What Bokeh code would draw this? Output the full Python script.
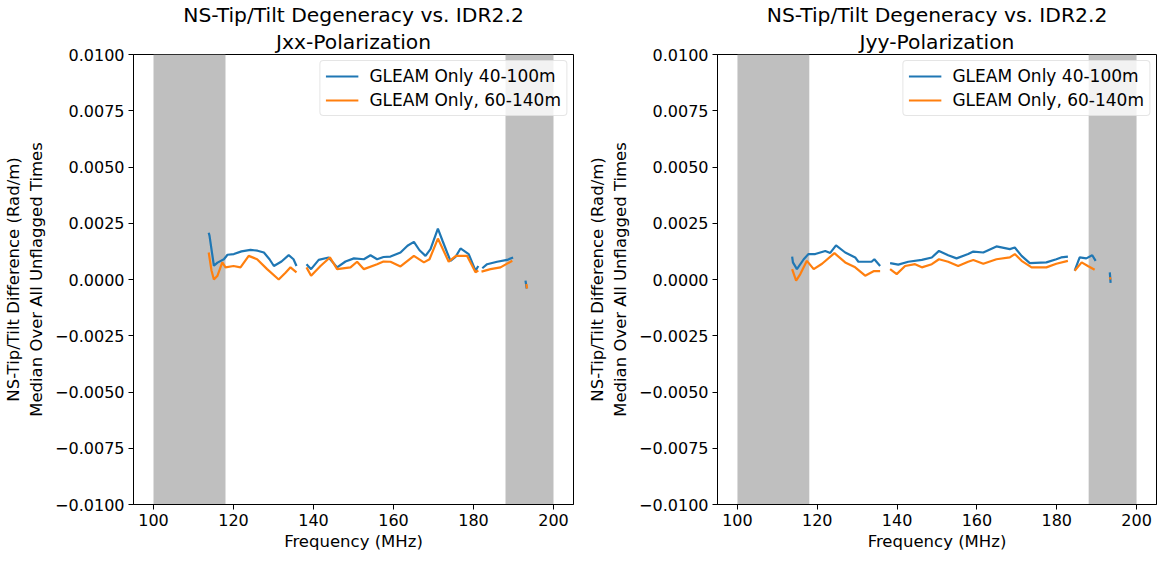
import numpy as np
from bokeh.plotting import figure
from bokeh.layouts import row
from bokeh.models import FixedTicker, CustomJSTickFormatter, Legend, LegendItem, Title
from bokeh.embed import file_html
from bokeh.resources import INLINE

nan = float("nan")

# ---- data ----
band_left = [100, 188]
band_right = [118, 200]

xx_blue_f = [113.8, 114.0, 115.1, 116.0, 117.6, 118.5, 120.1, 122.0, 124.25, 126.0, 127.6, 129.0, 130.1,
             132.0, 133.8, 135.0, 135.75, nan, 138.25, 139.4, 141.3, 143.8, 145.9, 148.0, 150.1, 152.6,
             154.25, 155.9, 157.5, 159.25, 161.75, 163.5, 165.1, 166.5, 168.0, 169.25, 171.1, 172.3, 173.4,
             174.25, 175.5, 176.75, 178.8, 180.5, 181.2, nan, 182.2, 183.4, 185.9, 188.4, 189.9, nan, 193.0, 193.3]
xx_blue_v = [0.00208, 0.00195, 0.00061, 0.00075, 0.0009, 0.0011, 0.00113, 0.00125, 0.00132, 0.00128, 0.0012,
             0.0009, 0.0006, 0.0008, 0.00108, 0.0009, 0.0006, nan, 0.00068, 0.00046, 0.00087, 0.00098, 0.00054,
             0.0008, 0.00094, 0.0009, 0.00108, 0.0009, 0.001, 0.00102, 0.0012, 0.0015, 0.00167, 0.0013, 0.00105,
             0.00135, 0.00226, 0.0017, 0.0012, 0.00083, 0.0010, 0.00138, 0.00113, 0.00039, 0.0006, nan, 0.0005,
             0.00068, 0.00079, 0.00087, 0.00098, nan, -0.00005, -0.0004]

xx_orange_f = [113.8, 114.5, 115.1, 116.0, 117.2, 118.0, 120.0, 121.75, 123.8, 125.9, 128.4, 131.3, 133.0,
               134.25, 135.75, nan, 138.25, 139.4, 141.75, 144.1, 145.9, 149.25, 150.9, 152.6, 155.9, 157.5,
               159.25, 161.75, 165.1, 167.6, 169.0, 171.1, 173.8, 175.6, 178.4, 179.25, 180.5, 181.2, nan,
               182.0, 184.25, 186.75, 189.7, nan, 193.2, 193.4]
xx_orange_v = [0.0012, 0.0004, 0.0, 0.00017, 0.00076, 0.00054, 0.0006, 0.00054, 0.00105, 0.0009, 0.00046, 0.0,
               0.0003, 0.00054, 0.00032, nan, 0.00054, 0.00017, 0.0006, 0.00098, 0.00046, 0.00054, 0.00079,
               0.00046, 0.00068, 0.0008, 0.00079, 0.00058, 0.00105, 0.00076, 0.0009, 0.00182, 0.00079, 0.00105,
               0.00105, 0.00076, 0.00032, 0.0004, nan, 0.00035, 0.00046, 0.00054, 0.00083, nan, -0.0002, -0.0004]

yy_blue_f = [113.7, 113.9, 114.9, 116.6, 117.8, 119.5, 122.0, 123.25, 124.7, 127.0, 129.5, 130.3, 133.6, 134.3,
             135.75, nan, 138.25, 140.3, 142.8, 146.2, 148.7, 150.5, 152.8, 154.9, 157.8, 159.1, 161.6, 164.9,
             168.25, 169.5, 171.2, 173.25, 177.4, 179.9, 181.1, 182.8, nan, 184.5, 185.75, 187.4, 188.9, 189.75,
             nan, 193.3, 193.5]
yy_blue_v = [0.00102, 0.00076, 0.00046, 0.0009, 0.00113, 0.00113, 0.00127, 0.00118, 0.00152, 0.0012, 0.00098,
             0.00079, 0.00079, 0.0009, 0.0006, nan, 0.00073, 0.00066, 0.00079, 0.00087, 0.00098, 0.00127, 0.00108,
             0.00094, 0.00113, 0.00124, 0.0012, 0.00147, 0.00135, 0.00142, 0.00105, 0.00073, 0.00076, 0.0009,
             0.00098, 0.00102, nan, 0.00039, 0.00098, 0.00094, 0.00108, 0.00083, nan, 0.00032, -0.00015]

yy_orange_f = [113.7, 114.7, 115.75, 117.4, 119.1, 121.2, 124.3, 127.0, 129.5, 132.0, 134.1, 135.75, nan,
               138.25, 139.9, 142.0, 144.5, 146.2, 148.7, 150.5, 152.8, 155.3, 157.8, 159.1, 161.6, 164.9,
               168.25, 169.5, 171.2, 173.7, 177.4, 179.9, 182.8, nan, 184.5, 186.25, 187.8, 189.5, nan,
               193.3, 193.5]
yy_orange_v = [0.00046, -0.00005, 0.00024, 0.00083, 0.00046, 0.0007, 0.00117, 0.00076, 0.00054, 0.00017,
               0.00037, 0.00037, nan, 0.00046, 0.00024, 0.0006, 0.00068, 0.00054, 0.00068, 0.0009, 0.00079,
               0.0006, 0.00079, 0.00087, 0.0007, 0.0009, 0.00098, 0.00113, 0.00083, 0.00054, 0.00054, 0.0007,
               0.00083, nan, 0.00039, 0.00076, 0.0006, 0.00043, nan, 0.0001, 0.0]

x_ticks = [100, 120, 140, 160, 180, 200]
y_ticks = [-0.01, -0.0075, -0.005, -0.0025, 0.0, 0.0025, 0.005, 0.0075, 0.01]
labels = ["GLEAM Only 40-100m", "GLEAM Only, 60-140m"]
title_main = "NS-Tip/Tilt Degeneracy vs. IDR2.2"
FONT = "DejaVu Sans"


def make(sub, bf, bv, of, ov, width, left_border, right_border):
    p = figure(width=width, height=553, x_range=(95, 205), y_range=(-0.01, 0.01),
               output_backend="svg", toolbar_location=None,
               min_border_left=left_border, min_border_right=right_border,
               min_border_top=2, min_border_bottom=10)
    for txt, so in ((sub, 2), (title_main, 0)):
        t = Title(text=txt, align="center", text_font=FONT, text_font_size="20.3px",
                  text_font_style="normal", text_color="black", standoff=so, offset=0)
        p.add_layout(t, "above")
    p.grid.visible = False
    p.outline_line_color = "black"
    p.outline_line_width = 1
    p.background_fill_color = "white"

    p.quad(left=band_left, right=band_right, bottom=-0.01, top=0.01,
           fill_color="#bfbfbf", line_color=None)
    r1 = p.line(np.array(bf), np.array(bv), line_color="#1f77b4", line_width=2.2)
    r2 = p.line(np.array(of), np.array(ov), line_color="#ff7f0e", line_width=2.2)

    for ax in (p.xaxis[0], p.yaxis[0]):
        ax.major_label_text_font = FONT
        ax.major_label_text_font_size = "16px"
        ax.major_label_text_color = "black"
        ax.axis_label_text_font = FONT
        ax.axis_label_text_font_size = "16.5px"
        ax.axis_label_text_font_style = "normal"
        ax.axis_label_text_color = "black"
        ax.major_tick_in = 0
        ax.major_tick_out = 5
        ax.minor_tick_in = 0
        ax.minor_tick_out = 0
        ax.axis_line_color = "black"
        ax.major_tick_line_color = "black"
        ax.major_label_standoff = 4
    p.xaxis[0].ticker = FixedTicker(ticks=x_ticks)
    p.yaxis[0].ticker = FixedTicker(ticks=y_ticks)
    p.yaxis[0].formatter = CustomJSTickFormatter(code="return tick.toFixed(4).replace('-', '\u2212');")
    p.xaxis[0].axis_label = "Frequency (MHz)"
    p.xaxis[0].axis_label_standoff = 3
    p.yaxis[0].axis_label = "NS-Tip/Tilt Difference (Rad/m)\nMedian Over All Unflagged Times"
    p.yaxis[0].axis_label_standoff = 6

    leg = Legend(items=[LegendItem(label=labels[0], renderers=[r1]),
                        LegendItem(label=labels[1], renderers=[r2])],
                 location="top_right")
    leg.label_text_font = FONT
    leg.label_text_font_size = "17px"
    leg.label_text_color = "black"
    leg.border_line_color = "#cccccc"
    leg.border_radius = 4
    leg.background_fill_alpha = 0.8
    leg.glyph_width = 33
    leg.glyph_height = 20
    leg.label_height = 20
    leg.spacing = 4
    leg.padding = 5
    leg.margin = 6
    leg.label_standoff = 11
    p.add_layout(leg)
    return p


p1 = make("Jxx-Polarization", xx_blue_f, xx_blue_v, xx_orange_f, xx_orange_v, 581, 133, 8)
p2 = make("Jyy-Polarization", yy_blue_f, yy_blue_v, yy_orange_f, yy_orange_v, 577, 136, 2)

layout = row(p1, p2)
open("out.html", "w").write(file_html(layout, INLINE))
